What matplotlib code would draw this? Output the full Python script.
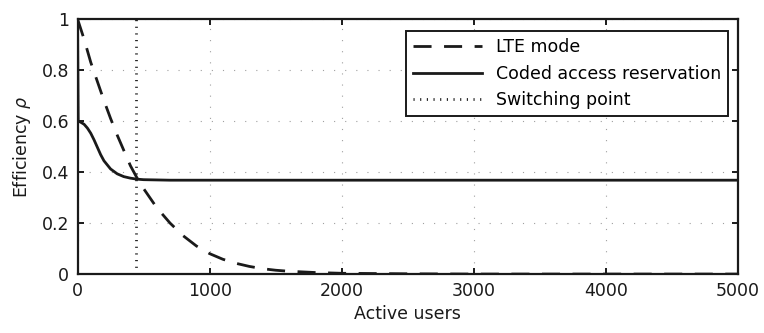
import matplotlib
matplotlib.use("Agg")
import matplotlib.pyplot as plt

plt.rcParams['font.family'] = ['DejaVu Sans']
plt.rcParams['mathtext.fontset'] = 'dejavusans'

# LTE mode efficiency vs number of active users
lte_users = [0, 50, 100, 150, 200, 250, 300, 350, 400, 450, 500, 600, 700, 800,
             900, 1000, 1100, 1200, 1300, 1400, 1500, 1600, 1800, 2000, 2500, 3000, 5000]
lte_eff = [1.0, 0.92, 0.83, 0.755, 0.68, 0.61, 0.545, 0.485, 0.425, 0.377, 0.335, 0.26,
           0.2, 0.15, 0.11, 0.08, 0.058, 0.042, 0.03, 0.021, 0.015, 0.011, 0.006, 0.003,
           0.001, 0.0, 0.0]

# coded access reservation efficiency
car_users = [0, 5, 25, 50, 75, 100, 125, 150, 175, 200, 250, 300, 350, 400, 450,
             500, 600, 700, 5000]
car_eff = [1.0, 0.6, 0.595, 0.587, 0.572, 0.552, 0.526, 0.497, 0.468, 0.444, 0.412,
           0.393, 0.382, 0.376, 0.372, 0.37, 0.369, 0.368, 0.368]

switch_x = 440

x_ticks = [0, 1000, 2000, 3000, 4000, 5000]
y_ticks = [0, 0.2, 0.4, 0.6, 0.8, 1]
y_tick_labels = ['0', '0.2', '0.4', '0.6', '0.8', '1']

ink = '#1a1a1a'
fs = 12.5

fig = plt.figure(figsize=(7.64, 3.33), dpi=100)
ax = fig.add_axes([0.1015, 0.177, 0.8645, 0.766])

ax.plot(lte_users, lte_eff, color=ink, lw=2.0, dashes=(6.5, 4.5), label='LTE mode')
ax.plot(car_users, car_eff, color=ink, lw=2.0, label='Coded access reservation')
ax.plot([switch_x, switch_x], [0, 1], color=ink, lw=2.0,
        dashes=(0.4, 2.0), dash_capstyle='butt', label='Switching point')

ax.set_xlim(0, 5000)
ax.set_ylim(0, 1)
ax.set_xticks(x_ticks)
ax.set_yticks(y_ticks)
ax.set_yticklabels(y_tick_labels)
ax.grid(True, color='#a0a0a0', lw=0.8, dashes=(1, 9))
ax.tick_params(direction='in', length=4.5, width=1.4, top=True, right=True,
               labelsize=fs, colors=ink, pad=6)
for s in ax.spines.values():
    s.set_linewidth(1.6)
    s.set_color(ink)

ax.set_xlabel('Active users', fontsize=fs, color=ink, labelpad=3)
ax.set_ylabel(r'Efficiency $\rho$', fontsize=fs, color=ink, labelpad=6)

leg = ax.legend(loc='upper right', bbox_to_anchor=(0.985, 0.953), borderaxespad=0,
                fontsize=fs, handlelength=4.0, handletextpad=0.8,
                fancybox=False, edgecolor=ink, framealpha=1,
                borderpad=0.4, labelspacing=0.5)
leg.get_frame().set_linewidth(1.4)

fig.savefig('out.png', dpi=100)
